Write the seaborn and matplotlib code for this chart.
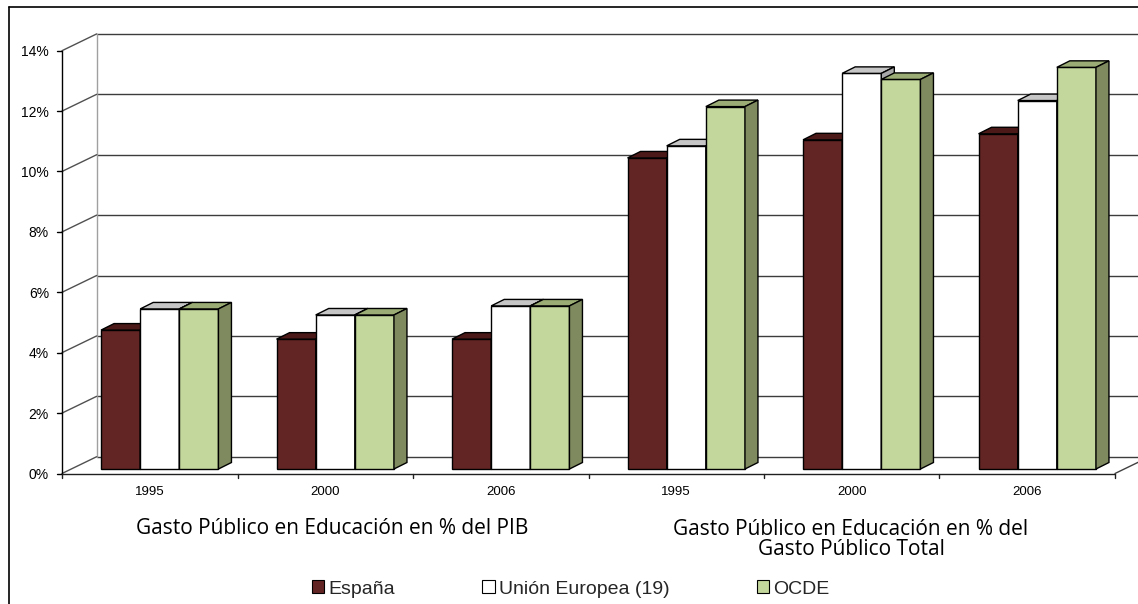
import numpy as np
import pandas as pd
import matplotlib
matplotlib.use("Agg")
import matplotlib.pyplot as plt
from matplotlib.patches import Polygon, Patch
from matplotlib.lines import Line2D
from matplotlib.transforms import ScaledTranslation
import seaborn as sns

# Gasto público en educación: % del PIB y % del gasto público total
panels = ["PIB", "PIB", "PIB", "Total", "Total", "Total"]
years = ["1995", "2000", "2006", "1995", "2000", "2006"]
espana = [4.6, 4.3, 4.3, 10.3, 10.9, 11.1]
union_europea = [5.3, 5.1, 5.4, 10.7, 13.1, 12.2]
ocde = [5.3, 5.1, 5.4, 12.0, 12.9, 13.3]
series_names = ["España", "Unión Europea (19)", "OCDE"]
y_ticks = [0, 2, 4, 6, 8, 10, 12, 14]
panel_titles = ["Gasto Público en Educación en % del PIB",
                "Gasto Público en Educación en % del\nGasto Público Total"]

front_colors = ["#632523", "#ffffff", "#c3d69b"]
top_colors = ["#4b1a18", "#c6c6c6", "#9bad74"]
side_colors = ["#3f1514", "#a8a8a8", "#7f8b5f"]

keys = [f"{p} {y}" for p, y in zip(panels, years)]
df = pd.DataFrame({
    "key": keys * 3,
    "serie": np.repeat(series_names, len(keys)),
    "valor": espana + union_europea + ocde,
})

sns.set_style("white")
plt.rcParams["font.family"] = ["Liberation Sans", "DejaVu Sans"]

W, H, DPI = 1138, 604, 100
fig = plt.figure(figsize=(W / DPI, H / DPI), dpi=DPI)
ax = fig.add_axes([72 / W, (H - 469) / H, 1053 / W, 14 * 30.2 / H])

sns.barplot(data=df, x="key", y="valor", hue="serie", order=keys,
            hue_order=series_names, palette=front_colors, width=0.669,
            gap=0, saturation=1, edgecolor="black", linewidth=1.0,
            legend=False, ax=ax)
ax.set_xlim(-0.5, 5.5)
ax.set_ylim(0, 14)
for s in ax.spines.values():
    s.set_visible(False)
ax.set_xlabel("")
ax.set_ylabel("")

# pixel -> data unit conversion for the oblique depth
p0 = ax.transData.transform((0, 0))
ppx = ax.transData.transform((1, 0))[0] - p0[0]
ppy = ax.transData.transform((0, 1))[1] - p0[1]
Fx, Fy = -10 / ppx, -4.5 / ppy      # front plane
Bx, By = 24.7 / ppx, 12.3 / ppy     # back wall
dx, dy = 13 / ppx, 6.5 / ppy        # bar depth

# 3D faces of the bars
for s, cont in enumerate(ax.containers):
    for p in cont.patches:
        x0, w, h = p.get_x(), p.get_width(), p.get_height()
        p.set_zorder(2 + s)
        p.set_clip_on(False)
        top = Polygon([(x0, h), (x0 + w, h), (x0 + w + dx, h + dy), (x0 + dx, h + dy)],
                      closed=True, fc=top_colors[s], ec="black", lw=1.0,
                      zorder=2.5 + s, clip_on=False)
        side = Polygon([(x0 + w, 0), (x0 + w + dx, dy), (x0 + w + dx, h + dy), (x0 + w, h)],
                       closed=True, fc=side_colors[s], ec="black", lw=1.0,
                       zorder=2.5 + s, clip_on=False)
        ax.add_patch(top)
        ax.add_patch(side)

def seg(x, y, **kw):
    ax.add_line(Line2D(x, y, clip_on=False, **kw))

xl, xr = -0.5, 5.5
# back wall grid
for v in y_ticks:
    seg([xl + Bx, xr + Bx + 1], [v + By, v + By], color="#3c3c3c", lw=1.0, zorder=1)
# left wall
seg([xl + Bx, xl + Bx], [By, 14 + By], color="#a0a0a0", lw=1.0, zorder=1)
for v in y_ticks:
    seg([xl + Fx, xl + Bx], [v + Fy, v + By], color="#505050", lw=1.0, zorder=1)
    seg([xl + Fx - 5 / ppx, xl + Fx], [v + Fy, v + Fy], color="black", lw=1.0, zorder=1)
seg([xl + Fx, xl + Fx], [Fy, 14 + Fy], color="black", lw=1.0, zorder=1)
# floor
seg([xl + Fx, xr + Fx], [Fy, Fy], color="#202020", lw=1.0, zorder=1)
seg([xr + Fx, xr + Bx], [Fy, By], color="#404040", lw=1.0, zorder=1)
for k in range(7):
    seg([k - 0.5 + Fx] * 2, [Fy, Fy - 4 / ppy], color="#202020", lw=1.0, zorder=1)

# tick labels on the front plane
ax.set_yticks(y_ticks, labels=[f"{v}%" for v in y_ticks])
ax.set_xticks(range(len(keys)), labels=years)
ax.tick_params(axis="y", length=0, pad=9.4, labelsize=10, labelcolor="black")
ax.tick_params(axis="x", length=0, pad=9, labelsize=9.5, labelcolor="black")
front_shift = ScaledTranslation(-10 / DPI, -4.5 / DPI, fig.dpi_scale_trans)
for lab in ax.get_yticklabels() + ax.get_xticklabels():
    lab.set_transform(lab.get_transform() + front_shift)

# panel titles
title_font = ["Open Sans", "DejaVu Sans"]
fig.text(332 / W, 1 - 529 / H, panel_titles[0], ha="center", va="center",
         fontsize=15, family=title_font, color="black")
fig.text(851 / W, 1 - 539.5 / H, panel_titles[1], ha="center", va="center",
         fontsize=15, family=title_font, color="black", linespacing=0.98)

# legend
handles = [Patch(facecolor=c, edgecolor="black", linewidth=0.8) for c in front_colors]
fig.legend(handles, series_names, loc="center left", bbox_to_anchor=(312 / W, 1 - 589 / H),
           ncol=3, frameon=False, fontsize=14, handlelength=0.62, handleheight=0.62,
           handletextpad=0.22, columnspacing=4.5, borderaxespad=0, borderpad=0)

# outer frame
fig.add_artist(Line2D([8.5 / W, 8.5 / W], [0, 1 - 7 / H], transform=fig.transFigure,
                      color="black", lw=1.2))
fig.add_artist(Line2D([8.5 / W, 1], [1 - 7 / H, 1 - 7 / H], transform=fig.transFigure,
                      color="black", lw=1.2))

fig.savefig("out.png", dpi=DPI, facecolor="white")
